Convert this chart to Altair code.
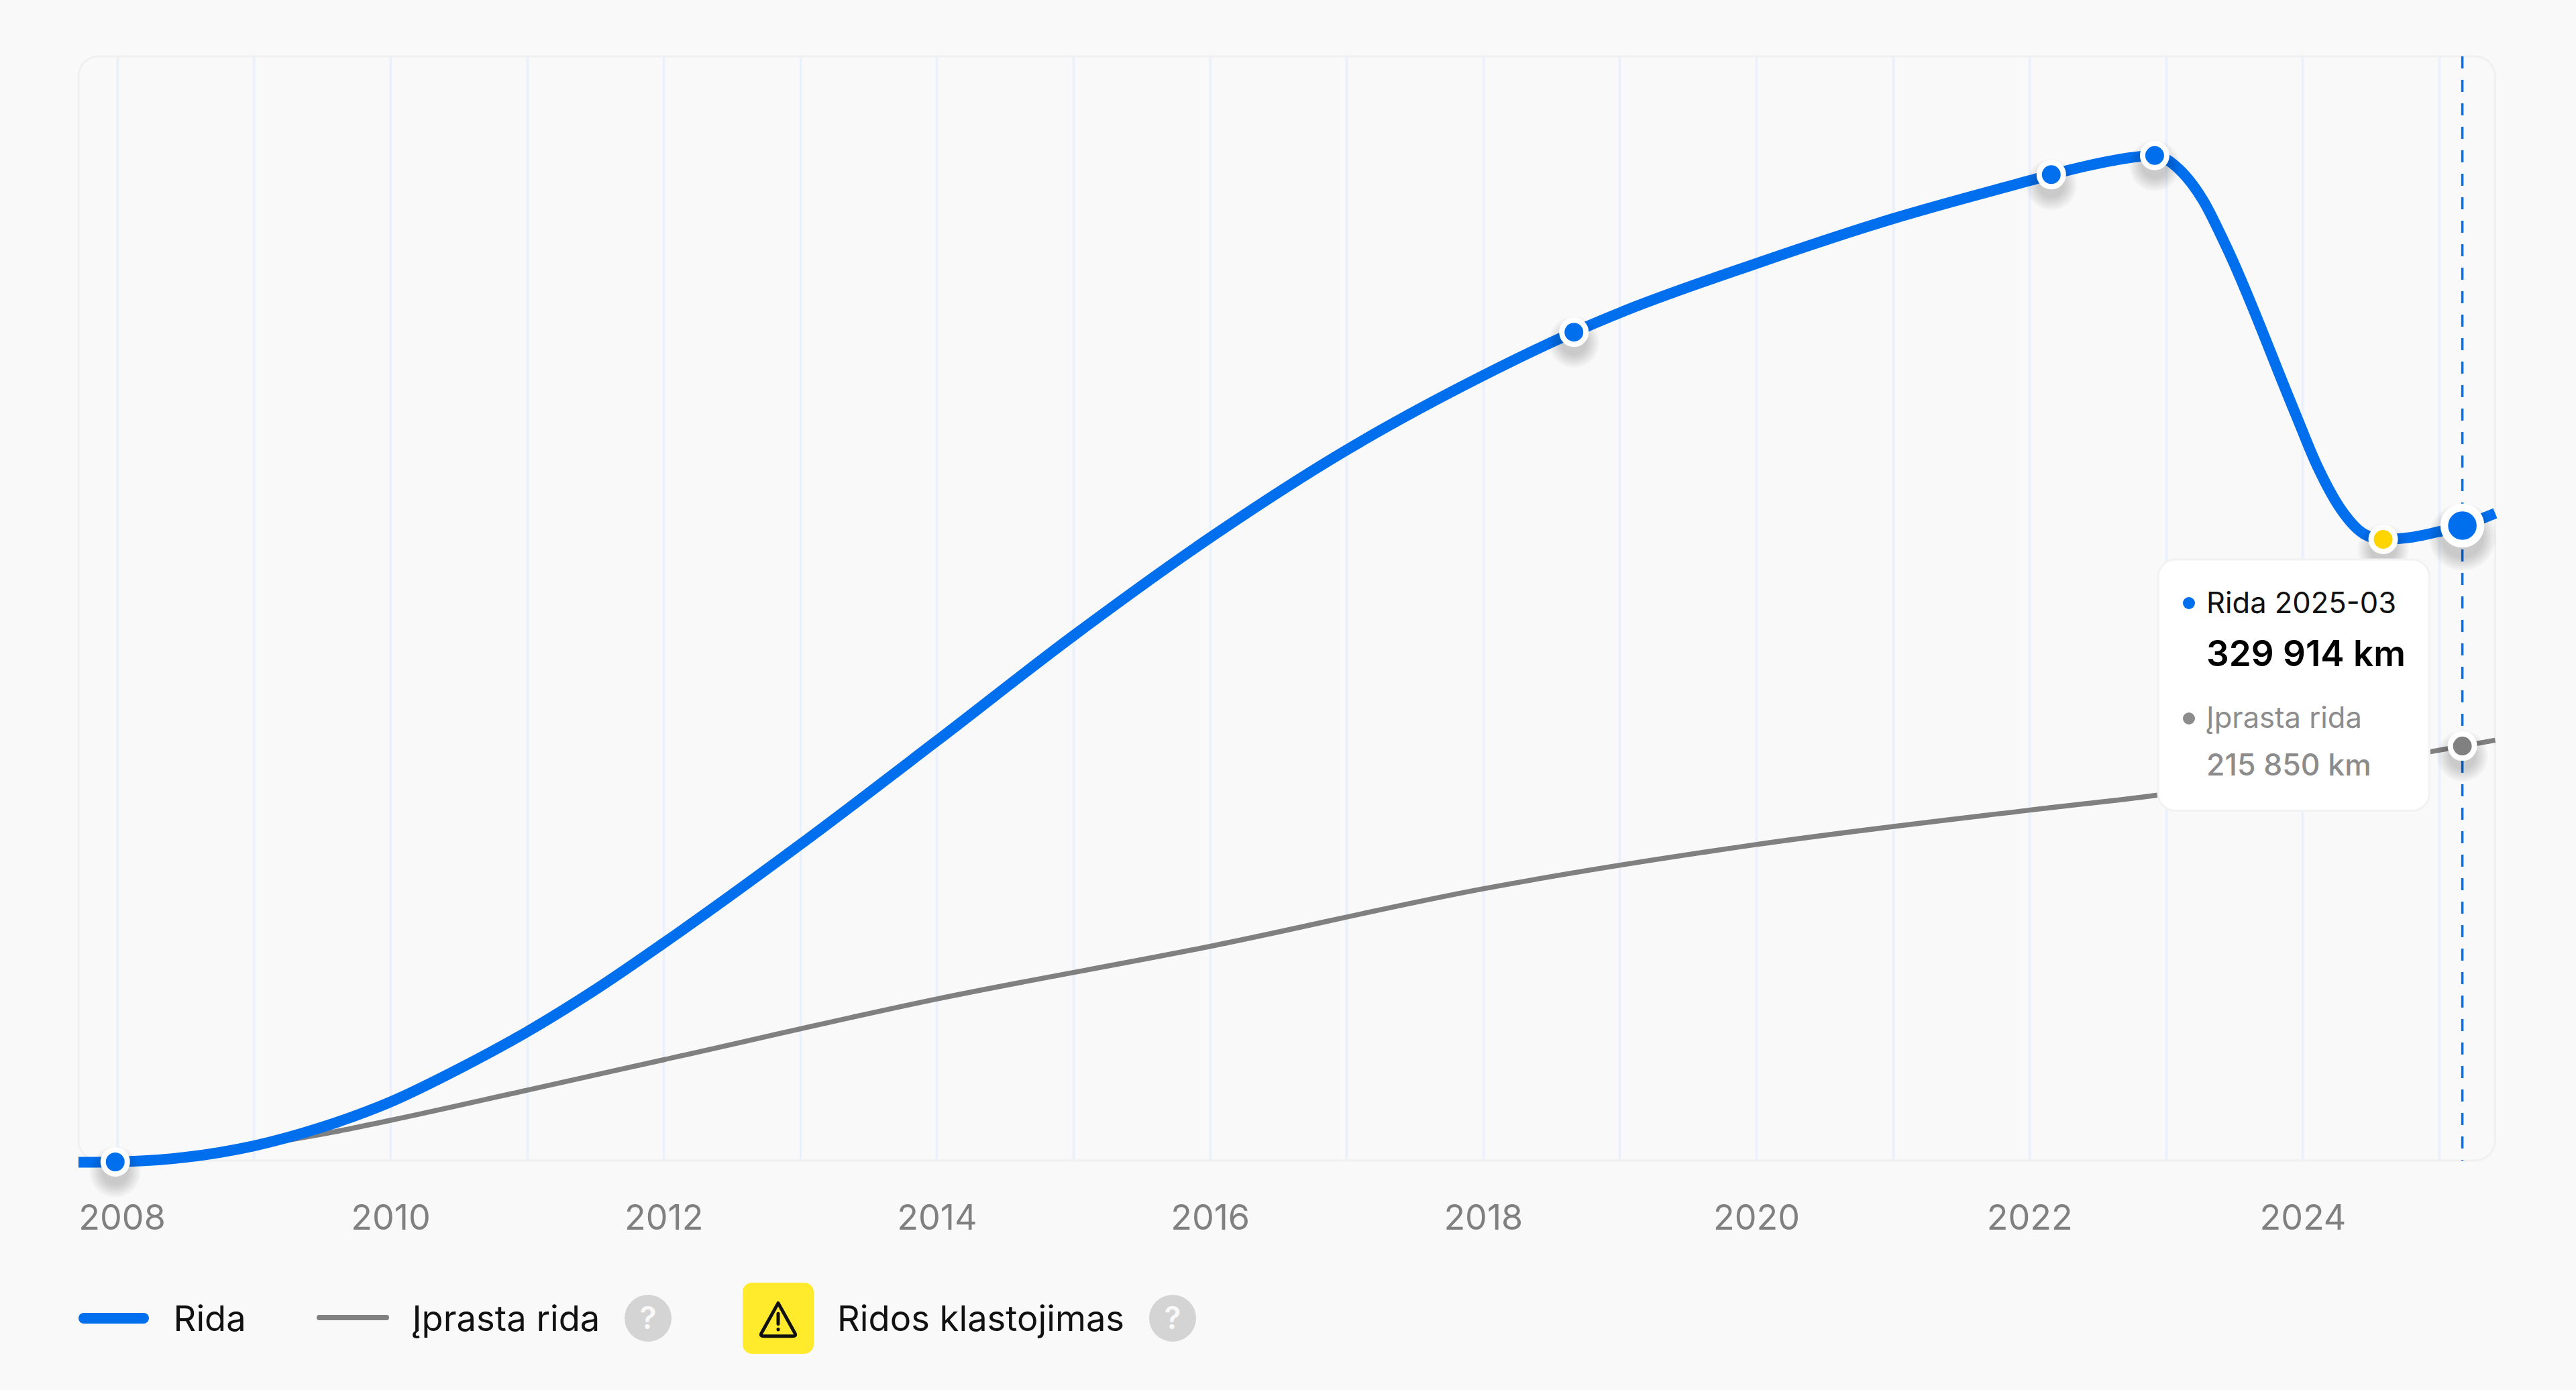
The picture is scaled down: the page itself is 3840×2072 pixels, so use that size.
import altair as alt
import pandas as pd

# ---- data ----
rida_year = [2007.716, 2007.985, 2008.5, 2009, 2009.5, 2010, 2010.5, 2011, 2011.5, 2012, 2013, 2014, 2015, 2016, 2017, 2018,
             2018.665, 2019, 2020, 2021, 2022, 2022.16, 2022.516, 2022.74, 2022.917, 2023.10, 2023.27, 2023.44,
             2023.94, 2024.11, 2024.28, 2024.45, 2024.59, 2024.79, 2025.01, 2025.17, 2025.41]
rida_km = [500, 700, 3100, 9000, 18700, 31700, 48800, 68000, 89800, 113900, 164900, 218500, 272900, 323600, 369000, 407500,
           430000, 440000, 465500, 488700, 508400, 511500, 517500, 520300, 521400, 514000, 498400, 474500,
           389100, 360300, 338400, 325600, 322800, 323800, 327000, 329914, 336300]

norm_year = [2009, 2009.6, 2010, 2011, 2012, 2014, 2016, 2018, 2020, 2022, 2022.93, 2025.17, 2025.41]
norm_km = [9000, 16400, 22200, 37800, 53550, 85000, 112200, 142000, 164900, 182700, 190400, 215850, 218900]

marker_year = [2007.985, 2018.665, 2022.16, 2022.917]
marker_km = [700, 430000, 511500, 521400]
fraud_year = [2024.59]
fraud_km = [322800]
current_year = [2025.17]
current_km = [329914]
current_norm_km = [215850]

grid_years = list(range(2008, 2026))

BLUE = "#006fee"
GRAY = "#808080"
BG = "#f9f9f9"
FONT = "Inter"
W, H = 3602.5, 1646
X0, Y0 = 117, 84

xscale = alt.Scale(domain=[2007.716, 2025.41], nice=False, zero=False)
yscale = alt.Scale(domain=[1388, 572700], nice=False, zero=False)
xaxis = alt.Axis(values=grid_years, grid=True, gridColor="#ebf1fb", gridWidth=4, domain=False, ticks=False,
                 title=None, format="d", labelExpr="datum.value % 2 == 0 ? datum.label : ''",
                 labelFont=FONT, labelFontSize=52, labelColor=GRAY, labelPadding=102, labelBaseline="alphabetic",
                 labelOverlap=False, labelFlush=False, labelBound=False,
                 labelAlign={"condition": {"test": "datum.value == 2008", "value": "left"}, "value": "center"},
                 labelOffset={"condition": {"test": "datum.value == 2008", "value": -58}, "value": 0})
X = alt.X("year:Q", scale=xscale, axis=xaxis)
Y = alt.Y("km:Q", scale=yscale, axis=None)


def df(years, kms):
    return pd.DataFrame({"year": years, "km": kms})


def blank():
    return alt.Chart(alt.Data(values=[{"a": 1}]))


def rect(x1, x2, y1, y2, **kw):
    return blank().mark_rect(**kw).encode(x=alt.value(x1 - X0), x2=alt.value(x2 - X0),
                                          y=alt.value(y1 - Y0), y2=alt.value(y2 - Y0))


def label(txt, x, y, size=52.5, color="#111111", weight=400, align="left"):
    return blank().mark_text(text=txt, font=FONT, fontSize=size, color=color, fontWeight=weight,
                             align=align, baseline="alphabetic").encode(x=alt.value(x - X0), y=alt.value(y - Y0))


def dot(x, y, d, color):
    return blank().mark_point(filled=True, size=d * d, color=color, opacity=1, shape="circle").encode(
        x=alt.value(x - X0), y=alt.value(y - Y0))


def shadow(data, base, off=15):
    return [alt.Chart(data).mark_point(filled=True, shape="circle", color="#000000", opacity=0.028,
                                       size=(base + g) ** 2, yOffset=off).encode(x=X, y=Y)
            for g in (0, 6, 12, 18, 24, 30, 36)]


def marker(data, fill, d, sw):
    return alt.Chart(data).mark_point(filled=True, shape="circle", fill=fill, stroke="white", strokeWidth=sw,
                                      opacity=1, size=d * d).encode(x=X, y=Y)


pts = df(marker_year, marker_km)
fraud = df(fraud_year, fraud_km)
cur = df(current_year, current_km)
curn = df(current_year, current_norm_km)

grid_base = alt.Chart(df(grid_years, [1388] * len(grid_years))).mark_point(opacity=0).encode(x=X, y=Y)
border = rect(X0, X0 + W, Y0, Y0 + H, fill=None, stroke="#f0f0f0", strokeWidth=3, cornerRadius=30)
norm_line = alt.Chart(df(norm_year, norm_km)).mark_line(color=GRAY, strokeWidth=7.5, interpolate="monotone").encode(x=X, y=Y)
rida_line = alt.Chart(df(rida_year, rida_km)).mark_line(color=BLUE, strokeWidth=16, interpolate="monotone").encode(x=X, y=Y)
vrule = alt.Chart(df(current_year, current_km)).mark_rule(color=BLUE, strokeWidth=3.5, strokeDash=[18, 17]).encode(
    x=X, y=alt.value(0), y2=alt.value(H))

layers = [grid_base, border, norm_line, rida_line, vrule]
layers += shadow(pts, 40) + [marker(pts, BLUE, 36, 8)]
layers += shadow(fraud, 40) + [marker(fraud, "#ffd500", 36, 8)]
layers += shadow(curn, 40) + [marker(curn, GRAY, 36, 8)]
layers += shadow(cur, 64, 17) + [marker(cur, BLUE, 54, 11.5)]

# tooltip card
layers += [
    rect(3217, 3621.5, 834, 1208.5, fill="white", stroke="#f2f2f2", strokeWidth=3, cornerRadius=26),
    dot(3263, 899, 18, BLUE),
    label("Rida 2025-03", 3289, 914, size=43.5, color="#111111"),
    label("329 914 km", 3289, 992.5, size=53, color="#000000", weight=600),
    dot(3263, 1071, 18, "#8c8c8c"),
    label("Įprasta rida", 3289, 1085, size=43.5, color="#8c8c8c"),
    label("215 850 km", 3289, 1156, size=44.5, color="#8c8c8c", weight=500),
]

# legend
def legend_bar(x1, x2, y, sw, color):
    return blank().mark_rule(color=color, strokeWidth=sw, strokeCap="round").encode(
        x=alt.value(x1 - X0), x2=alt.value(x2 - X0), y=alt.value(y - Y0))

WARN = "M0,-0.85 L0.85,0.68 Q0.95,0.85 0.75,0.85 L-0.75,0.85 Q-0.95,0.85 -0.85,0.68 Z M0,-0.3 L0,0.22 M0,0.5 L0,0.52"
layers += [
    legend_bar(125, 214, 1965, 16, BLUE),
    label("Rida", 258.6, 1984),
    legend_bar(476, 576, 1964, 8, GRAY),
    label("Įprasta rida", 614.5, 1984),
    dot(966, 1965, 70, "#d4d4d4"),
    label("?", 966, 1981, size=46, color=BG, weight=600, align="center"),
    rect(1107, 1213, 1912, 2018, fill="#ffeb2b", cornerRadius=14),
    blank().mark_point(shape=WARN, size=58 * 58, stroke="#111111", strokeWidth=5, strokeJoin="round",
                       strokeCap="round", opacity=1, filled=False).encode(x=alt.value(1160 - X0), y=alt.value(1967 - Y0)),
    label("Ridos klastojimas", 1248, 1984),
    dot(1748, 1965, 70, "#d4d4d4"),
    label("?", 1748, 1981, size=46, color=BG, weight=600, align="center"),
]

chart = alt.layer(*layers).properties(
    width=W, height=H, background=BG,
    padding={"left": X0 - 8, "top": Y0 - 8, "right": 100, "bottom": 320},
    autosize=alt.AutoSizeParams(type="none"),
).configure_view(stroke=None)

chart.save("out.html", embed_options={"renderer": "svg", "actions": False, "defaultStyle": "html,body{background:" + BG + "}"})
